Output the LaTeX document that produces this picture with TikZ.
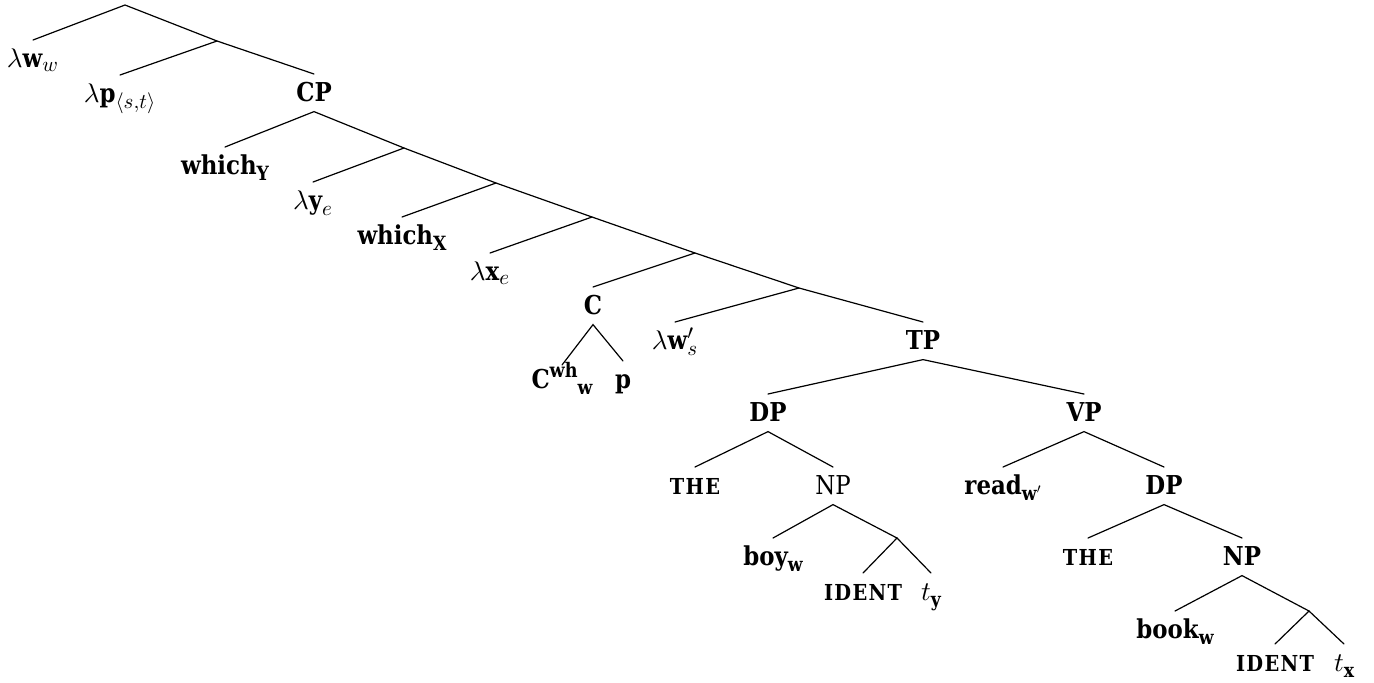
\documentclass[tikz,border=0pt]{standalone}
\usepackage{fontspec}
\setmainfont{DejaVu Serif}[FakeStretch=0.88]
% math fonts scalable to any size
\DeclareFontFamily{OML}{cmm}{\skewchar\font127 }
\DeclareFontShape{OML}{cmm}{m}{it}{<->cmmi10}{}
\DeclareFontFamily{OMS}{cmsy}{\skewchar\font48 }
\DeclareFontShape{OMS}{cmsy}{m}{n}{<->cmsy10}{}
\DeclareMathSizes{13}{13.5}{10.5}{8}
% lowered bold index
\newcommand\sbx[1]{\raisebox{-0.26em}{\fontsize{9.8}{10}\selectfont\bfseries #1}}
% raised bold index
\newcommand\spx[1]{\raisebox{0.4em}{\fontsize{10}{10}\selectfont\bfseries #1}}
% bold small capitals, letter-spaced
\newcommand\smc[1]{{\fontsize{11}{12}\selectfont\bfseries\addfontfeature{LetterSpace=6}#1}}
\begin{document}
\begin{tikzpicture}[x=0.5pt,y=-0.5pt,
  lbl/.style={anchor=base,inner sep=0pt,outer sep=0pt,text height=13.5pt,text depth=5.3pt,
    font=\fontsize{13}{15}\selectfont\bfseries},
  plain/.style={lbl,font=\fontsize{13}{15}\selectfont},
  edge/.style={line width=0.6pt,line cap=round}]
\useasboundingbox (0,0) rectangle (1374,682);

% branching points without labels
\coordinate (r)  at (125,5);
\coordinate (n1) at (217,41);
\coordinate (a)  at (404,148);
\coordinate (b)  at (496,183);
\coordinate (c)  at (592,217);
\coordinate (d)  at (695,253);
\coordinate (e)  at (799,288);
\coordinate (f)  at (897,538);
\coordinate (g)  at (1309,611);

% labelled nodes
\node[lbl] (lw)   at (33,67)    {$\lambda\textbf{w}_w$};
\node[lbl] (lp)   at (120,102)  {$\lambda\textbf{p}_{\langle s,t\rangle}$};
\node[lbl] (cp)   at (314,101)  {CP};
\node[lbl] (why)  at (225,174)  {which\sbx{Y}};
\node[lbl] (ly)   at (313,209)  {$\lambda\textbf{y}_e$};
\node[lbl] (whx)  at (402,244)  {which\sbx{X}};
\node[lbl] (lx)   at (490,280)  {$\lambda\textbf{x}_e$};
\node[lbl] (cc)   at (593,314)  {C};
\node[lbl,text height=11.5pt] (cwh) at (562,388) {C\spx{wh}\sbx{w}};
\node[lbl] (pp)   at (623,388)  {p};
\node[lbl] (lwp)  at (675,349)  {$\lambda\textbf{w}'_s$};
\node[lbl] (tp)   at (923,349)  {TP};
\node[lbl] (dp1)  at (768,421)  {DP};
\node[lbl] (vp)   at (1084,421) {VP};
\node[lbl] (the1) at (695,494)  {\smc{THE}};
\node[plain] (np1) at (833,494) {NP};
\node[lbl] (boy)  at (773,565)  {boy\sbx{w}};
\node[lbl] (id1)  at (863,600)  {\smc{IDENT}};
\node[lbl] (ty)   at (931,600)  {$t$\sbx{y}};
\node[lbl] (read) at (1003,494) {read\sbx{w$'$}};
\node[lbl] (dp2)  at (1164,494) {DP};
\node[lbl] (the2) at (1088,565) {\smc{THE}};
\node[lbl] (np2)  at (1242,565) {NP};
\node[lbl] (book) at (1175,638) {book\sbx{w}};
\node[lbl] (id2)  at (1275,671) {\smc{IDENT}};
\node[lbl] (tx)   at (1344,671) {$t$\sbx{x}};

% branches
\draw[edge] (lw.north) -- (r) -- (n1);
\draw[edge] (lp.north) -- (n1) -- (cp.north);
\draw[edge] (why.north) -- (cp.south) -- (a);
\draw[edge] (ly.north) -- (a) -- (b);
\draw[edge] (whx.north) -- (b) -- (c);
\draw[edge] (lx.north) -- (c) -- (d);
\draw[edge] (cc.north) -- (d) -- (e);
\draw[edge] (cwh.north) -- (cc.south) -- (pp.north);
\draw[edge] (lwp.north) -- (e) -- (tp.north);
\draw[edge] (dp1.north) -- (tp.south) -- (vp.north);
\draw[edge] (the1.north) -- (dp1.south) -- (np1.north);
\draw[edge] (boy.north) -- (np1.south) -- (f);
\draw[edge] (id1.north) -- (f) -- (ty.north);
\draw[edge] (read.north) -- (vp.south) -- (dp2.north);
\draw[edge] (the2.north) -- (dp2.south) -- (np2.north);
\draw[edge] (book.north) -- (np2.south) -- (g);
\draw[edge] (id2.north) -- (g) -- (tx.north);
\end{tikzpicture}
\end{document}
